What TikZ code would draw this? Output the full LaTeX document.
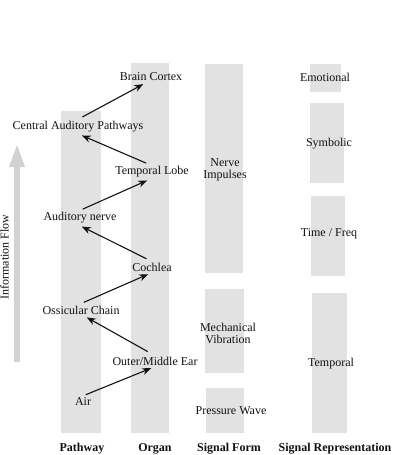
\documentclass[tikz,border=0pt]{standalone}
\usepackage{fontspec}
\setmainfont{Liberation Serif}
\usepackage{xcolor}
\usetikzlibrary{arrows.meta, calc}
\definecolor{BarGray}  {HTML}{E2E2E2}
\definecolor{FlowGray} {HTML}{D2D2D2}
\definecolor{InkBlack} {HTML}{111111}
\tikzset{
  bar/.style={fill=BarGray, draw=none},
  stage/.style={
    inner sep=2pt, align=center,
    font=\fontsize{12}{12}\selectfont, text=InkBlack,
  },
  head/.style={
    inner sep=2pt, font=\fontsize{12}{14}\selectfont\bfseries, text=InkBlack,
  },
  flow/.style={
    -{Stealth[length=9pt,width=7pt]}, color=InkBlack, line width=1.1pt,
    shorten <=3pt, shorten >=2pt,
  },
  bigflow/.style={
    -{Triangle[length=24pt,width=14pt]}, color=FlowGray, line width=6pt,
  },
}

\begin{document}
\begin{tikzpicture}[x=1pt, y=-1pt]
\useasboundingbox (0,0) rectangle (414,455);

% ── Column bars ───────────────────────────────────────────────────────────
\path[bar] ( 61,111) rectangle (101,433);   % pathway
\path[bar] (131, 63) rectangle (169,433);   % organ
\path[bar] (205, 64) rectangle (243,273);   % signal form
\path[bar] (205,289) rectangle (244,373);
\path[bar] (206,388) rectangle (244,433);
\path[bar] (310, 64) rectangle (341, 92);   % signal representation
\path[bar] (310,103) rectangle (344,183);
\path[bar] (311,196) rectangle (345,276);
\path[bar] (312,293) rectangle (347,433);

% ── Information flow ──────────────────────────────────────────────────────
\coordinate (FlowBot) at (17,362);
\coordinate (FlowTop) at (17,143);
\draw[bigflow] (FlowBot) -- (FlowTop);
\node[stage, rotate=90] (FlowLbl) at (4.5,257) {Information Flow};

% ── Stages ────────────────────────────────────────────────────────────────
\node[stage] (AIR)   at ( 83,402) {Air};
\node[stage] (OME)   at (155,361) {Outer/Middle Ear};
\node[stage] (OSS)   at ( 81,310) {Ossicular Chain};
\node[stage] (COCH)  at (152,267) {Cochlea};
\node[stage] (NERVE) at ( 80,218) {Auditory nerve};
\node[stage] (TLOBE) at (152,172) {Temporal Lobe};
\node[stage] (CAP)   at ( 78,127) {Central Auditory Pathways};
\node[stage] (BRAIN) at (151, 77) {Brain Cortex};

% ── Signal form / representation ──────────────────────────────────────────
\node[stage] (NIMP)  at (225,170) {Nerve\\Impulses};
\node[stage] (MECH)  at (228,333) {Mechanical\\Vibration};
\node[stage] (PWAVE) at (231,411) {Pressure Wave};
\node[stage] (EMO)   at (325, 77) {Emotional};
\node[stage] (SYM)   at (329,144) {Symbolic};
\node[stage] (TFREQ) at (329,234) {Time / Freq};
\node[stage] (TEMP)  at (331,364) {Temporal};

% ── Arrows ────────────────────────────────────────────────────────────────
\draw[flow] (AIR.north)   -- ([xshift=-2pt]OME.south);
\draw[flow, shorten <=6pt] ([xshift=-2pt]OME.north) -- ([xshift=4pt]OSS.south);
\draw[flow] (OSS.north)   -- ([xshift=-2pt]COCH.south);
\draw[flow, shorten <=4pt] ([xshift=-2pt]COCH.north) -- (NERVE.south);
\draw[flow] (NERVE.north) -- ([xshift=-3pt]TLOBE.south);
\draw[flow] ([xshift=-3pt]TLOBE.north) -- ([xshift=2pt]CAP.south);
\draw[flow, shorten <=5pt] (CAP.north) -- ([xshift=-6pt]BRAIN.south);

% ── Column heads ──────────────────────────────────────────────────────────
\node[head] (HPATH)  at ( 82,449) {Pathway};
\node[head] (HORGAN) at (155,449) {Organ};
\node[head] (HFORM)  at (229,449) {Signal Form};
\node[head] (HREP)   at (335,449) {Signal Representation};

\end{tikzpicture}
\end{document}
